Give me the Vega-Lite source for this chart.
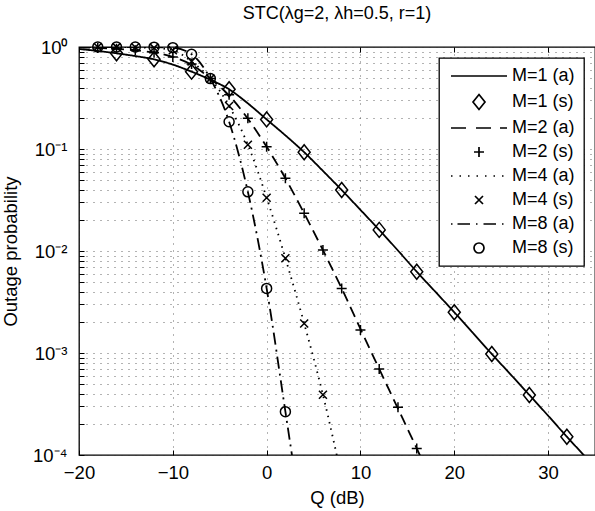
{
  "$schema": "https://vega.github.io/schema/vega-lite/v6.json",
  "width": 516,
  "height": 408,
  "autosize": {"type": "none"},
  "padding": {"left": 79, "top": 47, "right": 0, "bottom": 56},
  "background": "white",
  "title": {"text": "STC(λg=2, λh=0.5, r=1)", "font": "Liberation Sans", "fontSize": 18, "fontWeight": "normal", "color": "black", "offset": 15, "frame": "group", "anchor": "middle"},
  "config": {
    "font": "Liberation Sans",
    "view": {"stroke": "black", "strokeWidth": 1.3},
    "axis": {
      "domain": false,
      "labelFont": "Liberation Sans", "labelFontSize": 18.5, "labelColor": "black",
      "titleFont": "Liberation Sans", "titleFontSize": 18.5, "titleFontWeight": "normal", "titleColor": "black",
      "tickColor": "black", "tickSize": -5, "tickWidth": 1,
      "gridColor": "#333", "gridDash": [1, 6], "gridWidth": 1, "gridOpacity": 0.75,
      "labelOverlap": false, "labelFlush": false, "labelBound": false
    },
    "legend": {
      "orient": "top-right", "offset": 11, "padding": 9, "rowPadding": 6,
      "strokeColor": "black", "fillColor": "white", "cornerRadius": 0, "strokeWidth": 1.3,
      "labelFont": "Liberation Sans", "labelFontSize": 18, "labelColor": "black", "labelLimit": 200,
      "symbolSize": 100, "symbolOffset": 22, "labelOffset": 24,
      "symbolStrokeColor": "black", "symbolFillColor": "transparent", "symbolStrokeWidth": 1.7
    }
  },
  "data": {"values": [
    {"s":"M=1 (a)","t":"a","Q":-20,"p":0.955},{"s":"M=1 (a)","t":"a","Q":-18,"p":0.915},{"s":"M=1 (a)","t":"a","Q":-16,"p":0.867},{"s":"M=1 (a)","t":"a","Q":-14,"p":0.815},{"s":"M=1 (a)","t":"a","Q":-12,"p":0.757},{"s":"M=1 (a)","t":"a","Q":-10,"p":0.672},{"s":"M=1 (a)","t":"a","Q":-8,"p":0.573},{"s":"M=1 (a)","t":"a","Q":-6,"p":0.478},{"s":"M=1 (a)","t":"a","Q":-4,"p":0.385},{"s":"M=1 (a)","t":"a","Q":-2,"p":0.28},{"s":"M=1 (a)","t":"a","Q":0,"p":0.195},{"s":"M=1 (a)","t":"a","Q":2,"p":0.136},{"s":"M=1 (a)","t":"a","Q":4,"p":0.093},{"s":"M=1 (a)","t":"a","Q":6,"p":0.061},{"s":"M=1 (a)","t":"a","Q":8,"p":0.0396},{"s":"M=1 (a)","t":"a","Q":10,"p":0.0253},{"s":"M=1 (a)","t":"a","Q":12,"p":0.0161},{"s":"M=1 (a)","t":"a","Q":14,"p":0.0101},{"s":"M=1 (a)","t":"a","Q":16,"p":0.00626},{"s":"M=1 (a)","t":"a","Q":18,"p":0.00397},{"s":"M=1 (a)","t":"a","Q":20,"p":0.00251},{"s":"M=1 (a)","t":"a","Q":22,"p":0.00157},{"s":"M=1 (a)","t":"a","Q":24,"p":0.000977},{"s":"M=1 (a)","t":"a","Q":26,"p":0.000617},{"s":"M=1 (a)","t":"a","Q":28,"p":0.000388},{"s":"M=1 (a)","t":"a","Q":30,"p":0.000243},{"s":"M=1 (a)","t":"a","Q":32,"p":0.000151},{"s":"M=1 (a)","t":"a","Q":34,"p":0.0000955},{"s":"M=1 (a)","t":"a","Q":35,"p":0.000076},
    {"s":"M=2 (a)","t":"a","Q":-20,"p":0.99},{"s":"M=2 (a)","t":"a","Q":-18,"p":0.98},{"s":"M=2 (a)","t":"a","Q":-16,"p":0.96},{"s":"M=2 (a)","t":"a","Q":-14,"p":0.93},{"s":"M=2 (a)","t":"a","Q":-12,"p":0.88},{"s":"M=2 (a)","t":"a","Q":-10,"p":0.8},{"s":"M=2 (a)","t":"a","Q":-8,"p":0.67},{"s":"M=2 (a)","t":"a","Q":-6,"p":0.49},{"s":"M=2 (a)","t":"a","Q":-4,"p":0.335},{"s":"M=2 (a)","t":"a","Q":-2,"p":0.198},{"s":"M=2 (a)","t":"a","Q":0,"p":0.105},{"s":"M=2 (a)","t":"a","Q":2,"p":0.0516},{"s":"M=2 (a)","t":"a","Q":4,"p":0.0234},{"s":"M=2 (a)","t":"a","Q":6,"p":0.0102},{"s":"M=2 (a)","t":"a","Q":8,"p":0.0043},{"s":"M=2 (a)","t":"a","Q":10,"p":0.00172},{"s":"M=2 (a)","t":"a","Q":12,"p":0.000697},{"s":"M=2 (a)","t":"a","Q":14,"p":0.000285},{"s":"M=2 (a)","t":"a","Q":16,"p":0.000116},{"s":"M=2 (a)","t":"a","Q":18,"p":0.000046},
    {"s":"M=4 (a)","t":"a","Q":-20,"p":1.0},{"s":"M=4 (a)","t":"a","Q":-18,"p":0.999},{"s":"M=4 (a)","t":"a","Q":-16,"p":0.997},{"s":"M=4 (a)","t":"a","Q":-14,"p":0.993},{"s":"M=4 (a)","t":"a","Q":-12,"p":0.98},{"s":"M=4 (a)","t":"a","Q":-10,"p":0.93},{"s":"M=4 (a)","t":"a","Q":-8,"p":0.72},{"s":"M=4 (a)","t":"a","Q":-6,"p":0.49},{"s":"M=4 (a)","t":"a","Q":-4,"p":0.264},{"s":"M=4 (a)","t":"a","Q":-2,"p":0.11},{"s":"M=4 (a)","t":"a","Q":0,"p":0.0333},{"s":"M=4 (a)","t":"a","Q":2,"p":0.0085},{"s":"M=4 (a)","t":"a","Q":4,"p":0.00195},{"s":"M=4 (a)","t":"a","Q":6,"p":0.00039},{"s":"M=4 (a)","t":"a","Q":8,"p":0.00006},
    {"s":"M=8 (a)","t":"a","Q":-20,"p":1.0},{"s":"M=8 (a)","t":"a","Q":-18,"p":1.0},{"s":"M=8 (a)","t":"a","Q":-16,"p":1.0},{"s":"M=8 (a)","t":"a","Q":-14,"p":0.999},{"s":"M=8 (a)","t":"a","Q":-12,"p":0.997},{"s":"M=8 (a)","t":"a","Q":-10,"p":0.985},{"s":"M=8 (a)","t":"a","Q":-8,"p":0.85},{"s":"M=8 (a)","t":"a","Q":-6,"p":0.49},{"s":"M=8 (a)","t":"a","Q":-4,"p":0.185},{"s":"M=8 (a)","t":"a","Q":-2,"p":0.038},{"s":"M=8 (a)","t":"a","Q":0,"p":0.0043},{"s":"M=8 (a)","t":"a","Q":2,"p":0.000266},{"s":"M=8 (a)","t":"a","Q":4,"p":0.000016},
    {"s":"M=1 (s)","t":"s","Q":-16,"p":0.867},{"s":"M=1 (s)","t":"s","Q":-12,"p":0.757},{"s":"M=1 (s)","t":"s","Q":-8,"p":0.573},{"s":"M=1 (s)","t":"s","Q":-4,"p":0.385},{"s":"M=1 (s)","t":"s","Q":0,"p":0.195},{"s":"M=1 (s)","t":"s","Q":4,"p":0.093},{"s":"M=1 (s)","t":"s","Q":8,"p":0.0396},{"s":"M=1 (s)","t":"s","Q":12,"p":0.0161},{"s":"M=1 (s)","t":"s","Q":16,"p":0.00626},{"s":"M=1 (s)","t":"s","Q":20,"p":0.00251},{"s":"M=1 (s)","t":"s","Q":24,"p":0.000977},{"s":"M=1 (s)","t":"s","Q":28,"p":0.000388},{"s":"M=1 (s)","t":"s","Q":32,"p":0.000151},
    {"s":"M=2 (s)","t":"s","Q":-18,"p":0.98},{"s":"M=2 (s)","t":"s","Q":-16,"p":0.96},{"s":"M=2 (s)","t":"s","Q":-14,"p":0.93},{"s":"M=2 (s)","t":"s","Q":-12,"p":0.88},{"s":"M=2 (s)","t":"s","Q":-10,"p":0.8},{"s":"M=2 (s)","t":"s","Q":-8,"p":0.68},{"s":"M=2 (s)","t":"s","Q":-6,"p":0.49},{"s":"M=2 (s)","t":"s","Q":-4,"p":0.34},{"s":"M=2 (s)","t":"s","Q":-2,"p":0.2},{"s":"M=2 (s)","t":"s","Q":0,"p":0.105},{"s":"M=2 (s)","t":"s","Q":2,"p":0.0516},{"s":"M=2 (s)","t":"s","Q":4,"p":0.0234},{"s":"M=2 (s)","t":"s","Q":6,"p":0.0102},{"s":"M=2 (s)","t":"s","Q":8,"p":0.0043},{"s":"M=2 (s)","t":"s","Q":10,"p":0.00168},{"s":"M=2 (s)","t":"s","Q":12,"p":0.000697},{"s":"M=2 (s)","t":"s","Q":14,"p":0.000294},{"s":"M=2 (s)","t":"s","Q":16,"p":0.000116},
    {"s":"M=4 (s)","t":"s","Q":-18,"p":0.999},{"s":"M=4 (s)","t":"s","Q":-16,"p":0.997},{"s":"M=4 (s)","t":"s","Q":-14,"p":0.993},{"s":"M=4 (s)","t":"s","Q":-12,"p":0.98},{"s":"M=4 (s)","t":"s","Q":-10,"p":0.93},{"s":"M=4 (s)","t":"s","Q":-8,"p":0.72},{"s":"M=4 (s)","t":"s","Q":-6,"p":0.49},{"s":"M=4 (s)","t":"s","Q":-4,"p":0.264},{"s":"M=4 (s)","t":"s","Q":-2,"p":0.11},{"s":"M=4 (s)","t":"s","Q":0,"p":0.0333},{"s":"M=4 (s)","t":"s","Q":2,"p":0.0085},{"s":"M=4 (s)","t":"s","Q":4,"p":0.00195},{"s":"M=4 (s)","t":"s","Q":6,"p":0.00039},
    {"s":"M=8 (s)","t":"s","Q":-18,"p":1.0},{"s":"M=8 (s)","t":"s","Q":-16,"p":1.0},{"s":"M=8 (s)","t":"s","Q":-14,"p":0.999},{"s":"M=8 (s)","t":"s","Q":-12,"p":0.997},{"s":"M=8 (s)","t":"s","Q":-10,"p":0.985},{"s":"M=8 (s)","t":"s","Q":-8,"p":0.85},{"s":"M=8 (s)","t":"s","Q":-6,"p":0.49},{"s":"M=8 (s)","t":"s","Q":-4,"p":0.185},{"s":"M=8 (s)","t":"s","Q":-2,"p":0.038},{"s":"M=8 (s)","t":"s","Q":0,"p":0.0043},{"s":"M=8 (s)","t":"s","Q":2,"p":0.000266}
  ]},
  "layer": [
    {
      "transform": [{"filter": "datum.t == 'a'"}],
      "mark": {"type": "line", "clip": true, "color": "black", "strokeWidth": 1.8, "interpolate": "monotone"},
      "encoding": {
        "x": {"field": "Q", "type": "quantitative", "scale": {"domain": [-20, 35], "nice": false, "zero": false},
          "axis": {"orient": "bottom", "values": [-20, -10, 0, 10, 20, 30], "labelExpr": "replace(datum.label, '-', '−')", "labelPadding": 13, "title": "Q (dB)", "titlePadding": 7, "grid": true}},
        "y": {"field": "p", "type": "quantitative", "scale": {"type": "log", "domain": [0.0001, 1], "nice": false},
          "axis": {"values": [0.0001,0.0002,0.0003,0.0004,0.0005,0.0006,0.0007,0.0008,0.0009,0.001,0.002,0.003,0.004,0.005,0.006,0.007,0.008,0.009,0.01,0.02,0.03,0.04,0.05,0.06,0.07,0.08,0.09,0.1,0.2,0.3,0.4,0.5,0.6,0.7,0.8,0.9,1],
            "labelExpr": "datum.value == 1 ? '10⁰' : datum.value == 0.1 ? '10⁻¹' : datum.value == 0.01 ? '10⁻²' : datum.value == 0.001 ? '10⁻³' : datum.value == 0.0001 ? '10⁻⁴' : ''",
            "labelPadding": 17, "title": "Outage probability", "titlePadding": 12, "grid": true}},
        "strokeDash": {"field": "s", "type": "nominal", "title": null,
          "scale": {"domain": ["M=1 (a)","M=2 (a)","M=4 (a)","M=8 (a)"],
                    "range": [[1,0],[11,6],[1.5,5],[12,5,2,5]]},
          "legend": null}
      }
    },
    {
      "transform": [{"filter": "datum.t == 's'"}],
      "mark": {"type": "point", "filled": false, "clip": false, "color": "black", "strokeWidth": 1.5, "size": 100, "opacity": 1},
      "encoding": {
        "x": {"field": "Q", "type": "quantitative",
          "axis": {"orient": "top", "values": [-20, -10, 0, 10, 20, 30], "labels": false, "grid": false, "title": null}},
        "y": {"field": "p", "type": "quantitative"},
        "shape": {"field": "s", "type": "nominal", "title": null,
          "scale": {"domain": ["M=1 (a)","M=1 (s)","M=2 (a)","M=2 (s)","M=4 (a)","M=4 (s)","M=8 (a)","M=8 (s)"],
                    "range": ["M-5.6,0H5.6",
                              "M0,-1.5L1.2,0L0,1.5L-1.2,0Z",
                              "M-5.6,0H-2.6M-0.6,0H2.4M4.2,0H5.6",
                              "M-1,0H1M0,-1V1",
                              "M-5.6,0h0.3M-3.9,0h0.3M-2.2,0h0.3M-0.5,0h0.3M1.2,0h0.3M2.9,0h0.3M4.6,0h0.3",
                              "M-0.8,-0.8L0.8,0.8M-0.8,0.8L0.8,-0.8",
                              "M-5.6,0h0.3M-4.3,0H-1.8M-0.6,0h0.3M0.9,0H3.4M4.6,0h0.3",
                              "circle"]}}
      }
    }
  ],
  "resolve": {"axis": {"x": "independent"}, "scale": {"strokeDash": "independent"}}
}
